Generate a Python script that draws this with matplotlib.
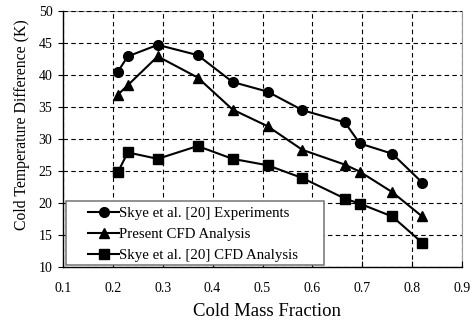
import matplotlib
matplotlib.use("Agg")
import matplotlib.pyplot as plt
from matplotlib.patches import Rectangle

plt.rcParams['font.family'] = ['Liberation Serif', 'DejaVu Serif']

x = [0.21, 0.23, 0.29, 0.37, 0.44, 0.51, 0.58, 0.665, 0.695, 0.76, 0.82]
exp_skye = [40.5, 42.9, 44.7, 43.1, 38.9, 37.4, 34.5, 32.6, 29.3, 27.7, 23.2]
cfd_present = [36.9, 38.4, 42.9, 39.6, 34.6, 32.0, 28.3, 26.0, 24.9, 21.7, 17.9]
cfd_skye = [24.8, 27.9, 26.9, 28.9, 26.9, 25.9, 23.9, 20.7, 19.9, 17.9, 13.8]

fig = plt.figure(figsize=(4.73, 3.21), dpi=100)
ax = fig.add_axes((0.133, 0.168, 0.844, 0.798))

ax.plot(x, exp_skye, color='black', lw=1.5, marker='o', ms=7, label='Skye et al. [20] Experiments')
ax.plot(x, cfd_present, color='black', lw=1.5, marker='^', ms=7.5, label='Present CFD Analysis')
ax.plot(x, cfd_skye, color='black', lw=1.5, marker='s', ms=7, label='Skye et al. [20] CFD Analysis')

ax.set_xlim(0.1, 0.9)
ax.set_ylim(10, 50)
ax.set_xticks([0.1, 0.2, 0.3, 0.4, 0.5, 0.6, 0.7, 0.8, 0.9])
ax.set_xticklabels(['0.1', '0.2', '0.3', '0.4', '0.5', '0.6', '0.7', '0.8', '0.9'])
ax.set_yticks(range(10, 51, 5))
ax.tick_params(axis='x', labelsize=10, direction='in', length=4, width=0.8, pad=11)
ax.tick_params(axis='y', labelsize=10, direction='out', length=3.5, width=0.8, pad=4)
ax.grid(True, color='black', linestyle=(0, (4, 3)), lw=0.8)
ax.spines['left'].set_linewidth(1.0)
ax.spines['bottom'].set_linewidth(1.0)
for side in ('top', 'right'):
    ax.spines[side].set_color('0.6')
    ax.spines[side].set_linewidth(0.8)
    ax.spines[side].set_zorder(0.1)

ax.set_xlabel('Cold Mass Fraction', fontsize=13.5)
ax.xaxis.set_label_coords(0.51, -0.14)
ax.set_ylabel('Cold Temperature Difference (K)', fontsize=11.3)
ax.yaxis.set_label_coords(-0.083, 0.555)

# legend frame drawn separately so the padding matches the original box
ax.add_patch(Rectangle((0.008, 0.008), 0.646, 0.25, transform=ax.transAxes,
                       facecolor='white', edgecolor='0.45', lw=1.1, zorder=4))
leg = ax.legend(loc='lower left', bbox_to_anchor=(0.063, 0.02), fontsize=10.7, frameon=False,
                handlelength=2.1, handletextpad=0.0, borderpad=0, borderaxespad=0,
                labelspacing=0.5)
leg.set_zorder(5)

fig.savefig('out.png', dpi=100)
